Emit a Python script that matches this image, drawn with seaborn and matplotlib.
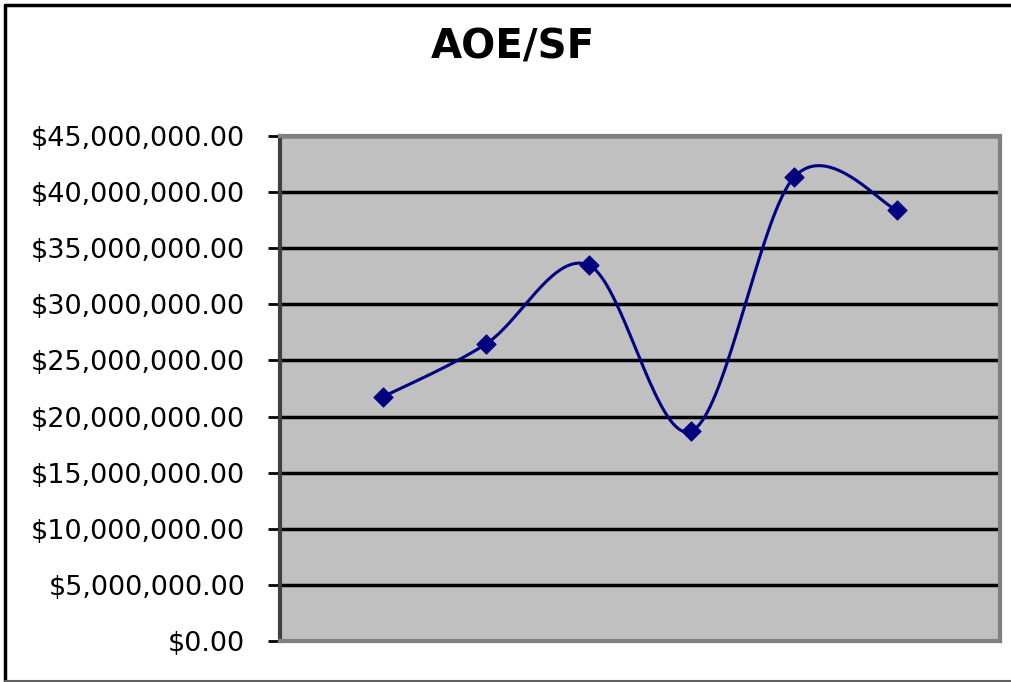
import numpy as np
import pandas as pd
import matplotlib
matplotlib.use("Agg")
import matplotlib.pyplot as plt
from matplotlib.lines import Line2D
from matplotlib.ticker import FuncFormatter
import seaborn as sns

# valores
periodos = [1, 2, 3, 4, 5, 6]
valores = [21.75e6, 26.45e6, 33.5e6, 18.7e6, 41.35e6, 38.4e6]
y_ticks = [0, 5e6, 10e6, 15e6, 20e6, 25e6, 30e6, 35e6, 40e6, 45e6]


def curva_suave(xs, ys, passos=40):
    # suavizacao tipo Excel (Bezier a partir dos vizinhos)
    pts = np.column_stack([xs, ys]).astype(float)
    n = len(pts)
    saida = []
    for i in range(n - 1):
        p0 = pts[max(i - 1, 0)]
        p1 = pts[i]
        p2 = pts[i + 1]
        p3 = pts[min(i + 2, n - 1)]
        c1 = p1 + (p2 - p0) / 6
        c2 = p2 - (p3 - p1) / 6
        t = np.linspace(0, 1, passos)[:, None]
        seg = (1 - t) ** 3 * p1 + 3 * (1 - t) ** 2 * t * c1 + 3 * (1 - t) * t ** 2 * c2 + t ** 3 * p2
        saida.append(seg if i == 0 else seg[1:])
    return np.vstack(saida)


sns.set_style("white")
plt.rcParams['font.family'] = ['DejaVu Sans']
plt.rcParams['text.color'] = 'black'
plt.rcParams['ytick.color'] = 'black'

fig = plt.figure(figsize=(10.12, 6.82), dpi=100)
ax = fig.add_axes([280 / 1012, 41 / 682, 720 / 1012, 505 / 682])
ax.set_facecolor("#c0c0c0")

curva = curva_suave(periodos, valores)
df_curva = pd.DataFrame({"x": curva[:, 0], "y": curva[:, 1]})
df_pts = pd.DataFrame({"x": periodos, "y": valores})

sns.lineplot(data=df_curva, x="x", y="y", sort=False, color="#000080", linewidth=2.2, ax=ax, zorder=3)
sns.scatterplot(data=df_pts, x="x", y="y", marker="D", s=95, color="#000080", edgecolor="#000080", ax=ax, zorder=4)

ax.set_xlim(0, 7)
ax.set_ylim(0, 45e6)
ax.set_xticks([])
ax.set_yticks(y_ticks)
ax.yaxis.set_major_formatter(FuncFormatter(lambda v, p: "${:,.2f}".format(v)))
ax.tick_params(axis="y", direction="out", length=9, width=2, color="black", labelcolor="black",
               labelsize=19.5, pad=16, left=True)
ax.grid(axis="y", color="black", linewidth=2.5)
ax.set_axisbelow(True)
ax.set_xlabel("")
ax.set_ylabel("")
for lado in ["top", "right", "bottom"]:
    ax.spines[lado].set_color("#808080")
    ax.spines[lado].set_linewidth(3)
ax.spines["left"].set_color("#404040")
ax.spines["left"].set_linewidth(3)

fig.text(513 / 1012, 1 - 48 / 682, "AOE/SF", ha="center", va="center", fontsize=29, fontweight="bold", color="black")

# moldura do grafico
fig.add_artist(Line2D([5 / 1012, 5 / 1012], [0, 1 - 5 / 682], color="black", linewidth=2.5, transform=fig.transFigure))
fig.add_artist(Line2D([5 / 1012, 1], [1 - 5 / 682, 1 - 5 / 682], color="black", linewidth=2.5, transform=fig.transFigure))
fig.add_artist(Line2D([5 / 1012, 1], [1 / 682, 1 / 682], color="#606060", linewidth=1.5, transform=fig.transFigure))

fig.savefig("out.png", dpi=100)
